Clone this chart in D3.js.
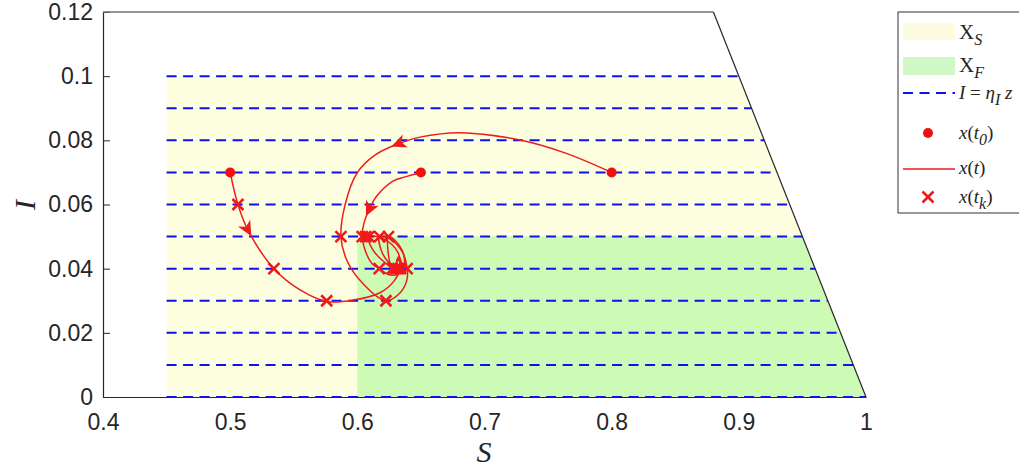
<!DOCTYPE html>
<html>
<head>
<meta charset="utf-8">
<script src="https://cdn.jsdelivr.net/npm/d3@7"></script>
<style>
  body { margin: 0; background: #fff; }
  svg { display: block; }
</style>
</head>
<body>
<div id="chart"></div>
<script>
// tick values
const xTicks = [0.4, 0.5, 0.6, 0.7, 0.8, 0.9, 1];
const yTicks = [0, 0.02, 0.04, 0.06, 0.08, 0.1, 0.12];

// regions (S, I)
const regionXS = [[0.45, 0], [0.45, 0.1], [0.9, 0.1], [1, 0]];
const regionXF = [[0.6, 0], [0.6, 0.05], [0.95, 0.05], [1, 0]];

// levels I = eta_I * z
const levels = [0, 0.01, 0.02, 0.03, 0.04, 0.05, 0.06, 0.07, 0.08, 0.09, 0.1];
const levelStartS = 0.45;

// initial states
const startPoints = [[0.5, 0.07], [0.65, 0.07], [0.8, 0.07]];

// trajectories
const traj1 = [[0.500, 0.070], [0.5061, 0.060], [0.514, 0.052], [0.5344, 0.040], [0.555, 0.0334],
  [0.5759, 0.0298], [0.5965, 0.0302], [0.6178, 0.0325], [0.6290, 0.0362], [0.6335, 0.0400],
  [0.6320, 0.0450], [0.6210, 0.0492], [0.6090, 0.0500], [0.6120, 0.0460], [0.6230, 0.0415],
  [0.6300, 0.0400], [0.6335, 0.0412], [0.6325, 0.0432], [0.6305, 0.0418]];
const traj2 = [[0.650, 0.070], [0.6374, 0.0686], [0.628, 0.0673], [0.6154, 0.0627], [0.6091, 0.0583],
  [0.6052, 0.0542], [0.6038, 0.0500], [0.6070, 0.0448], [0.6115, 0.0416], [0.6172, 0.0400],
  [0.6260, 0.0380], [0.6345, 0.0390], [0.6370, 0.0430], [0.6320, 0.0478], [0.6245, 0.0500],
  [0.6240, 0.0460], [0.6275, 0.0400], [0.6320, 0.0392], [0.6340, 0.0415], [0.6315, 0.0430],
  [0.6310, 0.0412]];
const traj3 = [[0.800, 0.070], [0.7632, 0.0761], [0.7278, 0.0801], [0.6807, 0.0824], [0.6492, 0.0810],
  [0.6319, 0.0789], [0.6138, 0.0754], [0.5997, 0.0698], [0.5903, 0.0598], [0.5871, 0.0500],
  [0.5910, 0.0433], [0.6005, 0.0371], [0.6225, 0.0300], [0.6335, 0.0324], [0.6390, 0.0365],
  [0.6392, 0.0400], [0.6358, 0.0449], [0.6260, 0.0492], [0.6175, 0.0500], [0.6190, 0.0455],
  [0.6250, 0.0418], [0.6320, 0.0400], [0.6345, 0.0418], [0.6325, 0.0438], [0.6310, 0.0420]];
const trajectories = [traj1, traj2, traj3];
const arrowIndex = [2, 4, 5];

// sampled states x(t_k)
const crossPoints = [
  [0.5061, 0.06],
  [0.5871, 0.05], [0.6038, 0.05], [0.6065, 0.05], [0.6090, 0.05], [0.6175, 0.05], [0.6245, 0.05],
  [0.5344, 0.04], [0.6172, 0.04], [0.6275, 0.04], [0.6300, 0.04], [0.6320, 0.04], [0.6340, 0.04], [0.6392, 0.04],
  [0.5759, 0.03], [0.6225, 0.03]
];

const width = 1019, height = 470;
const svg = d3.select("#chart").append("svg")
    .attr("width", width)
    .attr("height", height);

const x = d3.scaleLinear().domain([0.4, 1]).range([103, 866]);
const y = d3.scaleLinear().domain([0, 0.12]).range([397, 12]);

const poly = pts => "M" + pts.map(p => x(p[0]) + "," + y(p[1])).join("L") + "Z";

// regions
svg.append("path").attr("d", poly(regionXS)).attr("fill", "#fdfddf");
svg.append("path").attr("d", poly(regionXF)).attr("fill", "#cdfbb6");

// axes
const axisFont = "'Liberation Sans', Arial, sans-serif";
const yAxis = svg.append("g")
    .attr("transform", `translate(${x(0.4)},0)`)
    .call(d3.axisLeft(y).tickValues(yTicks).tickFormat(d3.format("~g"))
        .tickSizeInner(-7).tickSizeOuter(0).tickPadding(10));
const xAxis = svg.append("g")
    .attr("transform", `translate(0,${y(0)})`)
    .call(d3.axisBottom(x).tickValues(xTicks).tickFormat(d3.format("~g"))
        .tickSizeInner(0).tickSizeOuter(0).tickPadding(17));
[xAxis, yAxis].forEach(a => {
    a.select(".domain").attr("stroke", "#262626").attr("stroke-width", 1.2);
    a.selectAll(".tick line").attr("stroke", "#262626");
    a.selectAll("text").attr("fill", "#262626")
        .style("font-family", axisFont).style("font-size", "23px");
});

// boundary S + I = 1 and top edge
svg.append("line")
    .attr("x1", x(0.4)).attr("y1", y(0.12)).attr("x2", x(0.88)).attr("y2", y(0.12))
    .attr("stroke", "#707070").attr("stroke-width", 1.3);
svg.append("line")
    .attr("x1", x(0.88)).attr("y1", y(0.12)).attr("x2", x(1)).attr("y2", y(0))
    .attr("stroke", "#262626").attr("stroke-width", 1.2);

// level lines
svg.selectAll(".level")
    .data(levels)
    .enter()
    .append("line")
    .attr("class", "level")
    .attr("x1", x(levelStartS))
    .attr("x2", d => x(1 - d))
    .attr("y1", d => y(d))
    .attr("y2", d => y(d))
    .attr("stroke", "#1010f0")
    .attr("stroke-width", 2)
    .attr("stroke-dasharray", "10,6.5");

// trajectories
const line = d3.line()
    .x(d => x(d[0]))
    .y(d => y(d[1]))
    .curve(d3.curveCatmullRom.alpha(0.5));

svg.selectAll(".traj")
    .data(trajectories)
    .enter()
    .append("path")
    .attr("class", "traj")
    .attr("d", line)
    .attr("fill", "none")
    .attr("stroke", "#ee1c1c")
    .attr("stroke-width", 1.5);

// arrowheads
trajectories.forEach((t, k) => {
    const i = arrowIndex[k];
    const a = t[i - 1], b = t[i + 1];
    const ang = Math.atan2(y(b[1]) - y(a[1]), x(b[0]) - x(a[0])) * 180 / Math.PI;
    svg.append("path")
        .attr("d", "M7,0L-8,-7L-4,0L-8,7Z")
        .attr("transform", `translate(${x(t[i][0])},${y(t[i][1])}) rotate(${ang})`)
        .attr("fill", "#ee1c1c");
});

// crosses
const crossPath = "M-5.5,-5.5L5.5,5.5M-5.5,5.5L5.5,-5.5";
svg.selectAll(".cross")
    .data(crossPoints)
    .enter()
    .append("path")
    .attr("class", "cross")
    .attr("d", crossPath)
    .attr("transform", d => `translate(${x(d[0])},${y(d[1])})`)
    .attr("stroke", "#f01818")
    .attr("stroke-width", 2.5)
    .attr("fill", "none");

// start points
svg.selectAll(".start")
    .data(startPoints)
    .enter()
    .append("circle")
    .attr("cx", d => x(d[0]))
    .attr("cy", d => y(d[1]))
    .attr("r", 5)
    .attr("fill", "#f01010");

// axis labels
const mathFont = "'Liberation Serif', 'Times New Roman', serif";
svg.append("text")
    .attr("x", 484).attr("y", 462)
    .attr("text-anchor", "middle")
    .style("font-family", mathFont).style("font-style", "italic").style("font-size", "30px")
    .attr("fill", "#262626")
    .text("S");
svg.append("text")
    .attr("transform", "translate(35,205) rotate(-90)")
    .attr("text-anchor", "middle")
    .style("font-family", mathFont).style("font-style", "italic").style("font-size", "30px")
    .attr("fill", "#262626")
    .text("I");

// legend
const lg = svg.append("g");
lg.append("rect")
    .attr("x", 898).attr("y", 12).attr("width", 140).attr("height", 201)
    .attr("fill", "#fff").attr("stroke", "#333").attr("stroke-width", 1);

lg.append("rect").attr("x", 903).attr("y", 23).attr("width", 52).attr("height", 17).attr("fill", "#fdfbe0");
lg.append("rect").attr("x", 903).attr("y", 57).attr("width", 52).attr("height", 18).attr("fill", "#cff8c6");
lg.append("line").attr("x1", 903).attr("x2", 955).attr("y1", 93).attr("y2", 93)
    .attr("stroke", "#1010f0").attr("stroke-width", 2).attr("stroke-dasharray", "10,6.5");
lg.append("circle").attr("cx", 928).attr("cy", 133).attr("r", 5).attr("fill", "#f01010");
lg.append("line").attr("x1", 903).attr("x2", 955).attr("y1", 169).attr("y2", 169)
    .attr("stroke", "#ee1c1c").attr("stroke-width", 1.5);
lg.append("path").attr("d", crossPath).attr("transform", "translate(928,197)")
    .attr("stroke", "#f01818").attr("stroke-width", 2.5);

function legendText(yPos, parts, size) {
    const t = lg.append("text")
        .attr("x", 959).attr("y", yPos)
        .style("font-family", mathFont).style("font-size", size + "px")
        .attr("fill", "#262626");
    parts.forEach(p => {
        const s = t.append("tspan").text(p.t);
        if (p.i) s.style("font-style", "italic");
        if (p.sub) s.attr("dy", "6").style("font-size", "16px");
        if (p.up) s.attr("dy", "-6");
    });
}
legendText(39, [{t: "X"}, {t: "S", i: 1, sub: 1}], 21);
legendText(72, [{t: "X"}, {t: "F", i: 1, sub: 1}], 21);
legendText(99, [{t: "I", i: 1}, {t: " = "}, {t: "η", i: 1}, {t: "I", i: 1, sub: 1}, {t: " z", i: 1, up: 1}], 19);
legendText(139, [{t: "x", i: 1}, {t: "("}, {t: "t", i: 1}, {t: "0", i: 1, sub: 1}, {t: ")", up: 1}], 19);
legendText(174, [{t: "x", i: 1}, {t: "("}, {t: "t", i: 1}, {t: ")"}], 19);
legendText(203, [{t: "x", i: 1}, {t: "("}, {t: "t", i: 1}, {t: "k", i: 1, sub: 1}, {t: ")", up: 1}], 19);
</script>
</body>
</html>
